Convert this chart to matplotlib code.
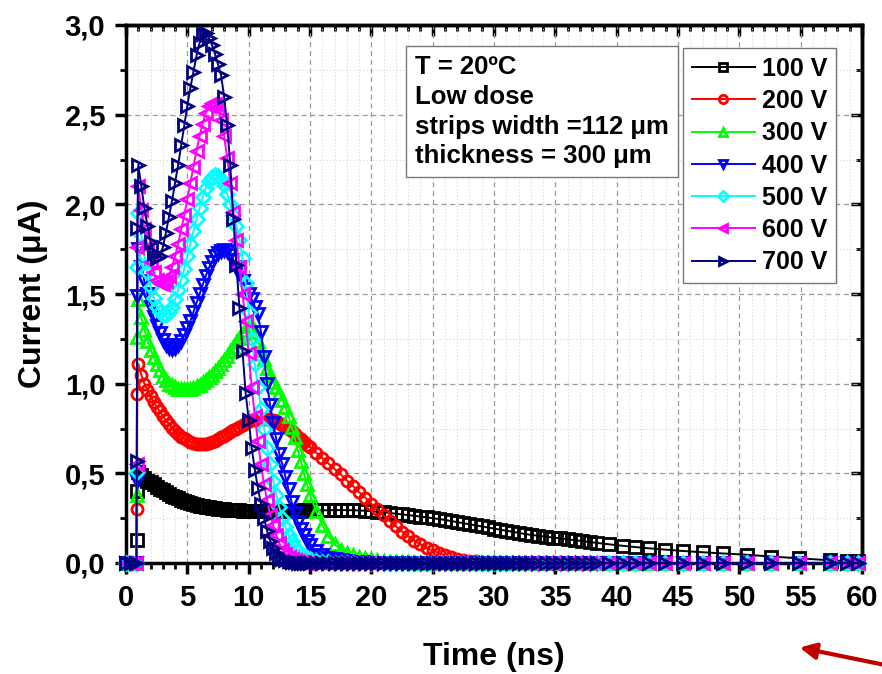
import matplotlib
matplotlib.use("Agg")
import matplotlib.pyplot as plt
from matplotlib.ticker import MultipleLocator, FuncFormatter

plt.rcParams['font.family'] = ['Liberation Sans', 'DejaVu Sans']
plt.rcParams['font.weight'] = 'bold'

# time grid (ns), shared by all curves
time_ns = [0, 0.4, 0.85, 0.88, 0.92, 1.0,
           1.25, 1.5, 1.75, 2.0, 2.25, 2.5, 2.75, 3.0,
           3.25, 3.5, 3.75, 4.0, 4.25, 4.5, 4.75, 5.0,
           5.25, 5.5, 5.75, 6.0, 6.25, 6.5, 6.75, 7.0,
           7.25, 7.5, 7.75, 8.0, 8.25, 8.5, 8.75, 9.0,
           9.25, 9.5, 9.75, 10.0, 10.25, 10.5, 10.75, 11.0,
           11.25, 11.5, 11.75, 12.0, 12.25, 12.5, 12.75, 13.0,
           13.25, 13.5, 13.75, 14.0, 14.25, 14.5, 14.75, 15.0,
           15.5, 16, 16.5, 17, 17.5, 18, 18.5, 19, 19.5,
           20, 20.5, 21, 21.5, 22, 22.5, 23, 23.5, 24,
           24.5, 25, 25.5, 26, 26.5, 27, 27.5, 28, 28.5,
           29, 29.5, 30, 30.5, 31, 31.5, 32, 32.5, 33,
           33.6, 34.2, 34.8, 35.4, 36.0, 36.6, 37.2, 37.8, 38.4, 39.4, 40.5, 41.5,
           42.6, 43.9, 45.4, 47.0, 48.7, 50.6, 52.6, 54.9, 57.4, 58.8, 59.7]

cur_100 = [0, 0, 0, 0.13, 0.40, 0.51,
           0.49, 0.475, 0.46, 0.45, 0.44, 0.425, 0.415, 0.405,
           0.395, 0.385, 0.375, 0.367, 0.36, 0.352, 0.345, 0.34,
           0.335, 0.33, 0.325, 0.32, 0.317, 0.314, 0.311, 0.308,
           0.305, 0.303, 0.301, 0.299, 0.297, 0.296, 0.295, 0.294,
           0.293, 0.292, 0.291, 0.29, 0.29, 0.29, 0.29, 0.29,
           0.29, 0.29, 0.29, 0.29, 0.29, 0.291, 0.291, 0.291,
           0.291, 0.292, 0.292, 0.292, 0.292, 0.293, 0.293, 0.293,
           0.293, 0.294, 0.294, 0.295, 0.295, 0.295, 0.294, 0.293, 0.291,
           0.289, 0.286, 0.283, 0.279, 0.275, 0.271, 0.267, 0.263, 0.259,
           0.255, 0.25, 0.245, 0.24, 0.234, 0.228, 0.222, 0.216, 0.21,
           0.204, 0.198, 0.192, 0.186, 0.18, 0.174, 0.168, 0.162, 0.157,
           0.152, 0.147, 0.142, 0.137, 0.132, 0.127, 0.122, 0.117, 0.112, 0.104, 0.096, 0.089,
           0.082, 0.075, 0.067, 0.06, 0.053, 0.046, 0.036, 0.026, 0.015, 0.011, 0.009]

cur_200 = [0, 0, 0, 0.30, 0.94, 1.11,
           1.05, 1.00, 0.965, 0.93, 0.90, 0.87, 0.845, 0.82,
           0.795, 0.775, 0.755, 0.735, 0.72, 0.705, 0.695, 0.685,
           0.675, 0.67, 0.665, 0.662, 0.662, 0.665, 0.67, 0.675,
           0.683, 0.69, 0.70, 0.71, 0.72, 0.73, 0.74, 0.75,
           0.76, 0.77, 0.78, 0.79, 0.795, 0.80, 0.803, 0.805,
           0.805, 0.803, 0.80, 0.795, 0.79, 0.78, 0.77, 0.76,
           0.75, 0.735, 0.72, 0.705, 0.69, 0.675, 0.66, 0.645,
           0.615, 0.585, 0.555, 0.525, 0.495, 0.46, 0.43, 0.395, 0.365,
           0.33, 0.30, 0.265, 0.235, 0.205, 0.175, 0.15, 0.125, 0.105,
           0.085, 0.07, 0.055, 0.043, 0.033, 0.025, 0.018, 0.013, 0.009,
           0.006, 0.004, 0.003, 0.002, 0.001, 0, 0, 0, 0,
           0, 0, 0, 0, 0, 0, 0, 0, 0, 0, 0, 0,
           0, 0, 0, 0, 0, 0, 0, 0, 0, 0, 0]

cur_300 = [0, 0, 0, 0.38, 1.26, 1.47,
           1.37, 1.30, 1.24, 1.19, 1.15, 1.11, 1.075, 1.045,
           1.02, 1.0, 0.99, 0.98, 0.973, 0.97, 0.968, 0.968,
           0.972, 0.978, 0.986, 0.995, 1.007, 1.02, 1.035, 1.05,
           1.07, 1.09, 1.11, 1.13, 1.155, 1.18, 1.205, 1.23,
           1.255, 1.28, 1.30, 1.32, 1.32, 1.29, 1.24, 1.19,
           1.14, 1.09, 1.05, 1.01, 0.98, 0.95, 0.91, 0.87,
           0.82, 0.76, 0.70, 0.63, 0.57, 0.50, 0.44, 0.38,
           0.29, 0.21, 0.15, 0.105, 0.075, 0.058, 0.045, 0.035, 0.027,
           0.02, 0.015, 0.011, 0.008, 0.006, 0.004, 0.003, 0.002, 0.001,
           0, 0, 0, 0, 0, 0, 0, 0, 0,
           0, 0, 0, 0, 0, 0, 0, 0, 0,
           0, 0, 0, 0, 0, 0, 0, 0, 0, 0, 0, 0,
           0, 0, 0, 0, 0, 0, 0, 0, 0, 0, 0]

cur_400 = [0, 0, 0, 0.46, 1.49, 1.75,
           1.65, 1.57, 1.50, 1.43, 1.37, 1.32, 1.28, 1.245,
           1.215, 1.20, 1.195, 1.20, 1.215, 1.24, 1.27, 1.31,
           1.35, 1.40, 1.45, 1.50, 1.55, 1.60, 1.645, 1.68,
           1.71, 1.73, 1.74, 1.745, 1.74, 1.72, 1.69, 1.65,
           1.61, 1.57, 1.53, 1.50, 1.47, 1.43, 1.39, 1.29,
           1.15, 1.00, 0.88, 0.78, 0.69, 0.61, 0.55, 0.48,
           0.41, 0.34, 0.28, 0.23, 0.19, 0.155, 0.125, 0.10,
           0.065, 0.045, 0.03, 0.02, 0.014, 0.01, 0.007, 0.005, 0.003,
           0.002, 0.001, 0, 0, 0, 0, 0, 0, 0,
           0, 0, 0, 0, 0, 0, 0, 0, 0,
           0, 0, 0, 0, 0, 0, 0, 0, 0,
           0, 0, 0, 0, 0, 0, 0, 0, 0, 0, 0, 0,
           0, 0, 0, 0, 0, 0, 0, 0, 0, 0, 0]

cur_500 = [0, 0, 0, 0.51, 1.65, 1.95,
           1.83, 1.72, 1.62, 1.54, 1.48, 1.43, 1.40, 1.385,
           1.385, 1.40, 1.43, 1.47, 1.52, 1.58, 1.64, 1.71,
           1.78, 1.85, 1.92, 1.98, 2.04, 2.09, 2.13, 2.155,
           2.165, 2.16, 2.14, 2.11, 2.06, 2.00, 1.94, 1.88,
           1.80, 1.70, 1.56, 1.40, 1.25, 1.11, 0.98, 0.86,
           0.75, 0.64, 0.55, 0.46, 0.38, 0.31, 0.25, 0.20,
           0.155, 0.12, 0.09, 0.068, 0.05, 0.037, 0.027, 0.02,
           0.011, 0.006, 0.003, 0.002, 0.001, 0, 0, 0, 0,
           0, 0, 0, 0, 0, 0, 0, 0, 0,
           0, 0, 0, 0, 0, 0, 0, 0, 0,
           0, 0, 0, 0, 0, 0, 0, 0, 0,
           0, 0, 0, 0, 0, 0, 0, 0, 0, 0, 0, 0,
           0, 0, 0, 0, 0, 0, 0, 0, 0, 0, 0]

cur_600 = [0, 0, 0, 0.55, 1.76, 2.10,
           1.97, 1.86, 1.76, 1.68, 1.62, 1.58, 1.56, 1.555,
           1.57, 1.60, 1.65, 1.71, 1.78, 1.86, 1.94, 2.03,
           2.12, 2.21, 2.30, 2.38, 2.45, 2.51, 2.55, 2.565,
           2.56, 2.53, 2.47, 2.38, 2.26, 2.12, 1.96, 1.80,
           1.65, 1.50, 1.35, 1.17, 0.98, 0.82, 0.68, 0.55,
           0.44, 0.35, 0.27, 0.21, 0.155, 0.11, 0.075, 0.05,
           0.033, 0.022, 0.015, 0.01, 0.006, 0.004, 0.002, 0.001,
           0, 0, 0, 0, 0, 0, 0, 0, 0,
           0, 0, 0, 0, 0, 0, 0, 0, 0,
           0, 0, 0, 0, 0, 0, 0, 0, 0,
           0, 0, 0, 0, 0, 0, 0, 0, 0,
           0, 0, 0, 0, 0, 0, 0, 0, 0, 0, 0, 0,
           0, 0, 0, 0, 0, 0, 0, 0, 0, 0, 0]

cur_700 = [0, 0, 0, 0.57, 1.87, 2.22,
           2.10, 1.98, 1.88, 1.79, 1.73, 1.70, 1.71, 1.76,
           1.84, 1.93, 2.02, 2.12, 2.22, 2.33, 2.44, 2.55,
           2.65, 2.74, 2.83, 2.90, 2.95, 2.955, 2.93, 2.89,
           2.84, 2.78, 2.72, 2.60, 2.44, 2.22, 1.92, 1.66,
           1.42, 1.18, 0.95, 0.80, 0.64, 0.52, 0.42, 0.33,
           0.25, 0.18, 0.125, 0.085, 0.055, 0.035, 0.022, 0.014,
           0.009, 0.005, 0.003, 0.002, 0.001, 0, 0, 0,
           0, 0, 0, 0, 0, 0, 0, 0, 0,
           0, 0, 0, 0, 0, 0, 0, 0, 0,
           0, 0, 0, 0, 0, 0, 0, 0, 0,
           0, 0, 0, 0, 0, 0, 0, 0, 0,
           0, 0, 0, 0, 0, 0, 0, 0, 0, 0, 0, 0,
           0, 0, 0, 0, 0, 0, 0, 0, 0, 0, 0]

labels = ['100 V', '200 V', '300 V', '400 V', '500 V', '600 V', '700 V']
series = [cur_100, cur_200, cur_300, cur_400, cur_500, cur_600, cur_700]
colors = ['#000000', '#ff0000', '#00ff00', '#0000ff', '#00ffff', '#ff00ff', '#000080']
markers = ['s', 'o', '^', 'v', 'D', '<', '>']

info_text = "T = 20ºC\nLow dose\nstrips width =112 μm\nthickness = 300 μm"

fig = plt.figure(figsize=(8.82, 6.74), dpi=100)
ax = fig.add_axes([126 / 882, 1 - 563 / 674, 736 / 882, 538 / 674])

for vals, lab, col, mk in zip(series, labels, colors, markers):
    ax.plot(time_ns, vals, color=col, marker=mk, ms=8 if mk != 'D' else 7,
            mfc='none', mec=col, mew=2.0, lw=1.4, label=lab, clip_on=False, zorder=3)

ax.set_xlim(0, 60)
ax.set_ylim(0, 3.0)
ax.xaxis.set_major_locator(MultipleLocator(5))
ax.xaxis.set_minor_locator(MultipleLocator(1))
ax.yaxis.set_major_locator(MultipleLocator(0.5))
ax.yaxis.set_minor_locator(MultipleLocator(0.25))
ax.yaxis.set_major_formatter(FuncFormatter(lambda v, p: f"{v:.1f}".replace('.', ',')))

ax.grid(which='major', ls=(0, (4, 3)), color='#9a9a9a', lw=0.9, zorder=0)
ax.grid(which='minor', ls=(0, (1, 2)), color='#d5d5d5', lw=0.8, zorder=0)
ax.set_axisbelow(True)

for sp in ax.spines.values():
    sp.set_linewidth(2.5)
ax.tick_params(which='major', direction='out', length=8, width=2.5, labelsize=21, pad=7)
ax.tick_params(which='minor', direction='out', length=4.5, width=2.0)

# mirrored ticks pointing inward on top and right
secx = ax.secondary_xaxis('top')
secx.xaxis.set_major_locator(MultipleLocator(5))
secx.xaxis.set_minor_locator(MultipleLocator(1))
secx.tick_params(which='major', direction='in', length=8, width=2.5, labeltop=False)
secx.tick_params(which='minor', direction='in', length=4.5, width=2.0)
secx.spines['top'].set_linewidth(2.5)
secy = ax.secondary_yaxis('right')
secy.yaxis.set_major_locator(MultipleLocator(0.5))
secy.yaxis.set_minor_locator(MultipleLocator(0.25))
secy.tick_params(which='major', direction='in', length=8, width=2.5, labelright=False)
secy.tick_params(which='minor', direction='in', length=4.5, width=2.0)
secy.spines['right'].set_linewidth(2.5)

ax.set_xlabel('Time (ns)', fontsize=23, fontweight='bold', labelpad=22)
ax.set_ylabel('Current (μA)', fontsize=23, fontweight='bold', labelpad=12)

leg = ax.legend(loc='upper right', bbox_to_anchor=(0.965, 0.957), fancybox=False,
                edgecolor='#777777', framealpha=1, prop=dict(weight='bold', size=18),
                handlelength=2.5, handletextpad=0.3, labelspacing=0.33,
                borderpad=0.35, borderaxespad=0, markerscale=0.75)
leg.get_frame().set_linewidth(1.0)
leg.set_zorder(5)

ax.text(0.393, 0.944, info_text, transform=ax.transAxes, va='top', ha='left',
        fontsize=18.5, fontweight='bold', linespacing=1.3, zorder=5,
        bbox=dict(boxstyle='square,pad=0.35', fc='white', ec='#777777', lw=1.0))

ax.annotate('', xy=(797, 27), xycoords='figure pixels', xytext=(890, 8),
            textcoords='figure pixels', annotation_clip=False,
            arrowprops=dict(arrowstyle='-|>', color='#c00000', lw=3, mutation_scale=24))

fig.savefig('out.png', dpi=100)
